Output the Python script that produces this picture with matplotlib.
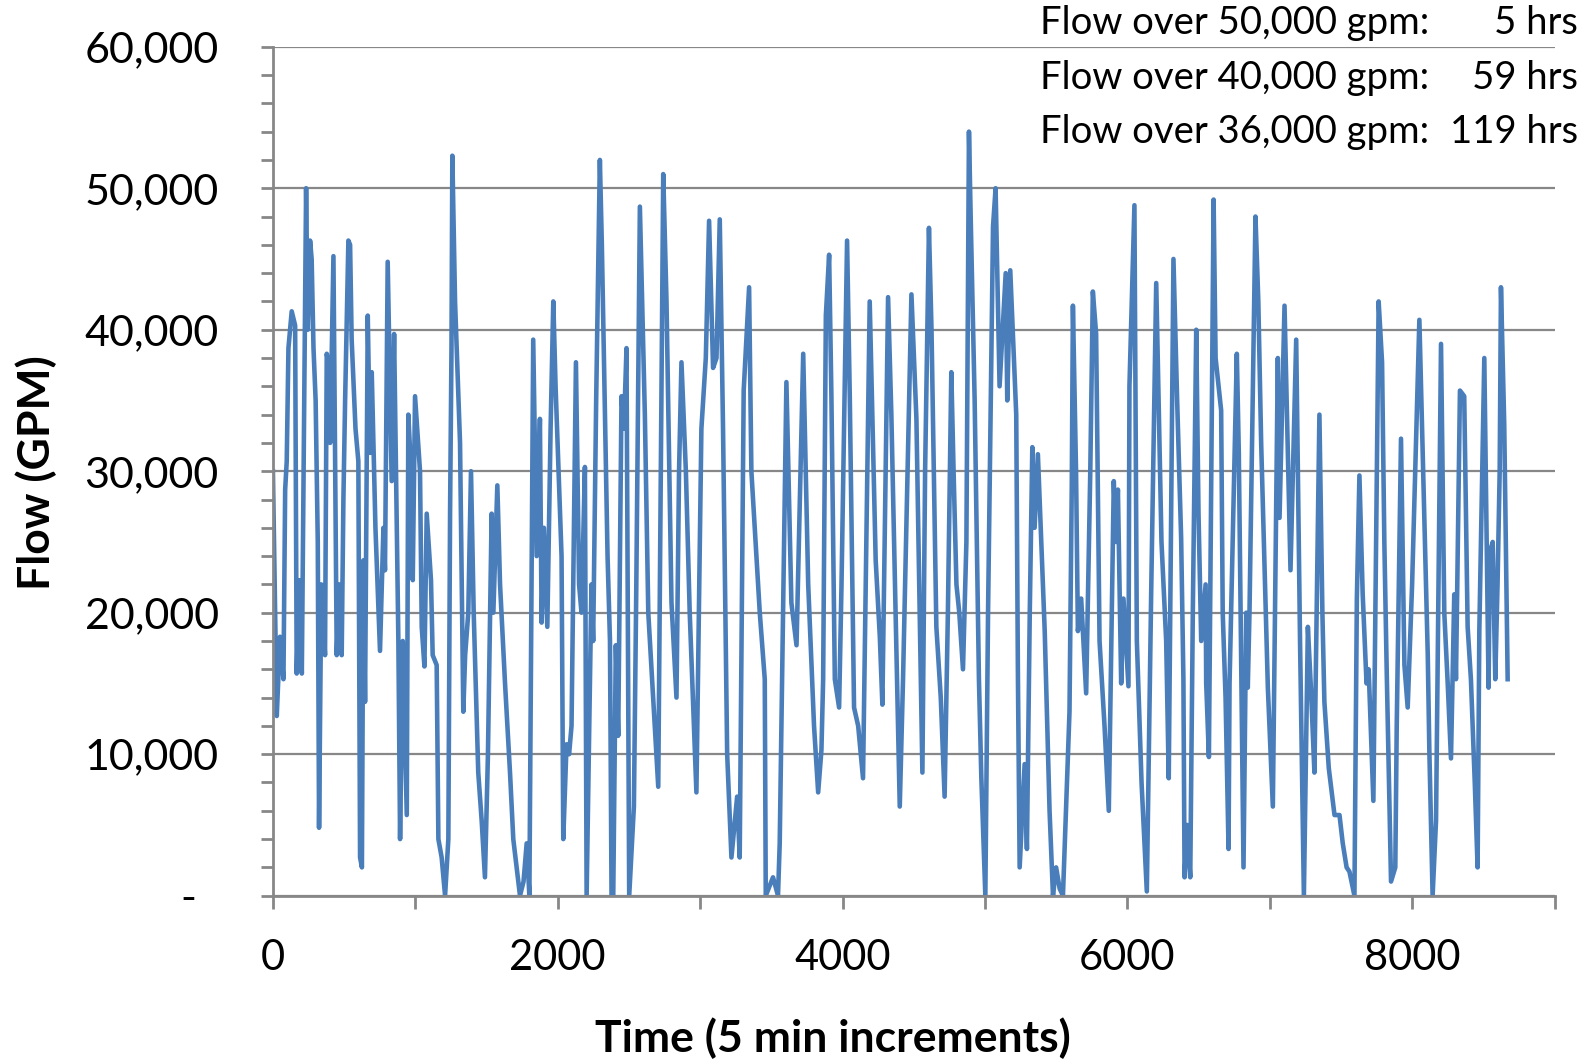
import matplotlib
matplotlib.use("Agg")
import matplotlib.pyplot as plt
from matplotlib.ticker import MultipleLocator, FuncFormatter

plt.rcParams['font.family'] = ['Lato', 'DejaVu Sans']

# turning points (sample index, gpm)
time_idx = [
    0, 27, 50, 74, 86, 97, 109, 132, 156, 167, 185, 203, 233, 245, 261, 272, 285, 300, 315, 324,
    340, 366, 378, 395, 402, 425, 448, 465, 483, 495, 507, 530, 542, 553, 580, 600, 612, 625, 635, 647,
    666, 682, 694, 720, 752, 776, 787, 806, 834, 851, 881, 893,
    912, 940, 951, 970, 982, 998, 1033, 1045, 1064, 1080, 1110, 1122, 1150, 1162, 1185, 1209, 1232, 1244,
    1254, 1260, 1279, 1314, 1337, 1350, 1372, 1391, 1410, 1442, 1466, 1489, 1510, 1536, 1548, 1576, 1595, 1630,
    1665, 1688, 1735, 1760, 1782, 1801, 1828,
    1852, 1875, 1887, 1903, 1927, 1950, 1969, 1985, 2027, 2039, 2062, 2080, 2097, 2128, 2150, 2167, 2191, 2203,
    2237, 2249, 2270, 2296, 2310, 2350, 2367, 2378, 2390, 2408, 2425, 2448, 2465, 2483, 2502, 2535, 2552, 2577,
    2612, 2636, 2682, 2706, 2741,
    2764, 2799, 2834, 2852, 2869, 2900, 2927, 2974, 3009, 3040, 3063, 3091, 3115, 3138, 3161, 3190, 3220, 3260,
    3278, 3306, 3344, 3360, 3419, 3454, 3461, 3512, 3547, 3559, 3606, 3641,
    3677, 3724, 3759, 3800, 3829, 3852, 3864, 3883, 3906, 3922, 3946, 3976, 3993, 4032, 4051, 4081, 4110, 4144,
    4191, 4233, 4262, 4280, 4320, 4343, 4402, 4425, 4484, 4519, 4561,
    4580, 4607, 4625, 4659, 4690, 4717, 4740, 4764, 4780, 4800, 4820, 4846, 4870, 4888, 4900, 4928, 4958, 4975,
    5003, 5022, 5057, 5075, 5103, 5146, 5157, 5178, 5220, 5232, 5244, 5279, 5295, 5315, 5333, 5349, 5372, 5420,
    5454, 5478,
    5500, 5525, 5548, 5594, 5610, 5618, 5640, 5653, 5676, 5711, 5740, 5758, 5781, 5805, 5840, 5870, 5905, 5920,
    5934, 5957, 5973, 6008, 6015, 6050, 6067, 6100, 6137, 6167, 6203, 6240, 6273, 6291, 6324, 6350, 6378, 6394,
    6402, 6420, 6442, 6460, 6484, 6500, 6519, 6550, 6554, 6573, 6590, 6606, 6620, 6659, 6670, 6690, 6711, 6718,
    6769, 6783, 6816, 6835, 6846, 6858, 6900, 6920, 6940, 6987, 7022, 7057, 7069, 7104, 7146, 7186, 7213, 7240,
    7268, 7291, 7314,
    7349, 7370, 7384, 7415, 7455, 7490, 7513, 7540, 7560, 7595, 7612, 7630, 7653, 7680, 7695, 7728, 7765, 7789,
    7805, 7822, 7852, 7882, 7892, 7906, 7922, 7946, 7969, 8000, 8051, 8110, 8121, 8144, 8168, 8203,
    8226, 8250, 8273, 8296, 8308, 8336, 8366, 8390, 8413, 8440, 8460, 8472, 8483, 8507, 8537, 8546, 8566, 8584,
    8600, 8615, 8624, 8647, 8671,
]
flow_gpm = [
    30000, 12700, 18300, 15300, 28700, 30700, 38700, 41300, 40300, 15700, 22300, 15700, 50000, 40000, 46300, 45000, 38700, 35000, 25000, 4800,
    22000, 17000, 38300, 37300, 32000, 45200, 17000, 22000, 17000, 28000, 35000, 46300, 46000, 39300, 33000, 30700, 2700, 2000, 23700, 13700,
    41000, 31300, 37000, 26000, 17300, 26000, 23000, 44800, 29300, 39700, 18000, 4000,
    18000, 5700, 34000, 30000, 22300, 35300, 30000, 19000, 16200, 27000, 22300, 17000, 16300, 4000, 2700, 0, 4000, 27000,
    38700, 52300, 42000, 32000, 13000, 17000, 20000, 30000, 20000, 8700, 5300, 1300, 10000, 27000, 20000, 29000, 22000, 15000,
    8700, 4000, 0, 1000, 3700, 0, 39300,
    24000, 33700, 19300, 26000, 19000, 33000, 42000, 36000, 24000, 4000, 10700, 10000, 12000, 37700, 22000, 20000, 30300, 0,
    22000, 18000, 35000, 52000, 46000, 24000, 18000, 0, 0, 17700, 11300, 35300, 33000, 38700, 0, 6300, 22000, 48700,
    34000, 20000, 12000, 7700, 51000,
    42000, 20700, 14000, 30000, 37700, 30000, 20000, 7300, 33000, 38000, 47700, 37300, 38000, 47800, 33000, 10000, 2700, 7000,
    2700, 35700, 43000, 30000, 20000, 15300, 0, 1300, 0, 3700, 36300, 20700,
    17700, 38300, 22000, 12000, 7300, 10300, 15300, 41000, 45300, 35300, 15300, 13300, 22000, 46300, 35300, 13300, 12000, 8300,
    42000, 23700, 18300, 13500, 42300, 34000, 6300, 15300, 42500, 33700, 8700,
    30000, 47200, 40000, 19000, 14000, 7000, 20000, 37000, 30000, 22000, 20000, 16000, 25000, 54000, 48000, 35000, 15300, 8300,
    0, 20000, 47300, 50000, 36000, 44000, 35000, 44200, 34000, 15300, 2000, 9300, 3300, 20000, 31700, 26000, 31200, 18700,
    6000, 0,
    2000, 500, 0, 13000, 29000, 41700, 30000, 18700, 21000, 14300, 30000, 42700, 39700, 18000, 12000, 6000, 29300, 25000,
    28700, 15000, 21000, 14800, 36000, 48800, 18000, 8000, 300, 21000, 43300, 25000, 18000, 8300, 45000, 35000, 25300, 15300,
    1300, 5000, 1300, 20000, 40000, 27000, 18000, 22000, 15000, 9800, 30000, 49200, 38000, 34300, 20000, 14000, 3300, 15000,
    38300, 31300, 2000, 20000, 14700, 20000, 48000, 42000, 32000, 14700, 6300, 38000, 26700, 41700, 23000, 39300, 18000, 0,
    19000, 14300, 8700,
    34000, 20000, 13700, 9000, 5700, 5700, 3700, 2000, 1700, 0, 21000, 29700, 21300, 15000, 16000, 6700, 42000, 37700,
    25000, 15700, 1000, 2000, 12000, 21300, 32300, 16300, 13300, 22000, 40700, 17000, 10300, 0, 5300, 39000,
    20000, 15000, 9700, 21300, 15300, 35700, 35300, 19000, 15300, 8000, 2000, 18700, 24700, 38000, 14700, 24300, 25000, 15300,
    22000, 30000, 43000, 33300, 15300,
]

summary_labels = ['Flow over 50,000 gpm:', 'Flow over 40,000 gpm:', 'Flow over 36,000 gpm:']
summary_hours = ['5 hrs', '59 hrs', '119 hrs']

grey = '#878787'
blue = '#4a7ebb'

fig = plt.figure(figsize=(15.96, 10.62), dpi=100)
ax = fig.add_axes([0.171, 0.1566, 0.803, 0.7994])

ax.plot(time_idx, flow_gpm, color=blue, linewidth=3.3, solid_joinstyle='round')

ax.set_xlim(0, 9000)
ax.set_ylim(0, 60000)
ax.xaxis.set_major_locator(MultipleLocator(1000))
ax.yaxis.set_major_locator(MultipleLocator(10000))
ax.yaxis.set_minor_locator(MultipleLocator(2000))
ax.xaxis.set_major_formatter(FuncFormatter(lambda v, p: f'{int(v)}' if int(v) % 2000 == 0 else ''))
ax.yaxis.set_major_formatter(FuncFormatter(lambda v, p: '-  ' if v == 0 else f'{v:,.0f}'))

ax.grid(axis='y', color=grey, linewidth=1.6)
ax.set_axisbelow(True)
for side in ['top', 'right']:
    ax.spines[side].set_visible(False)
for side in ['left', 'bottom']:
    ax.spines[side].set_color(grey)
    ax.spines[side].set_linewidth(2)

ax.tick_params(axis='both', which='both', direction='out', color=grey, width=2, length=9)
ax.tick_params(axis='x', labelsize=30, pad=22)
ax.tick_params(axis='y', labelsize=31, pad=30)

ax.set_xlabel('Time (5 min increments)', fontsize=32, fontweight='bold')
ax.set_ylabel('Flow (GPM)', fontsize=32, fontweight='bold')
ax.xaxis.set_label_coords(0.437, -0.1676)
ax.xaxis.label.set_va('center')
ax.yaxis.set_label_coords(-0.1847, 0.498)
ax.yaxis.label.set_va('center')

for i, (lab, hrs) in enumerate(zip(summary_labels, summary_hours)):
    y = 1 - (23 + 53.5 * i) * 1.018 / 1062
    fig.text(0.6516, y, lab, fontsize=27.5, va='center', ha='left')
    fig.text(0.9887, y, hrs, fontsize=27.5, va='center', ha='right')

fig.savefig('out.png', dpi=100)
